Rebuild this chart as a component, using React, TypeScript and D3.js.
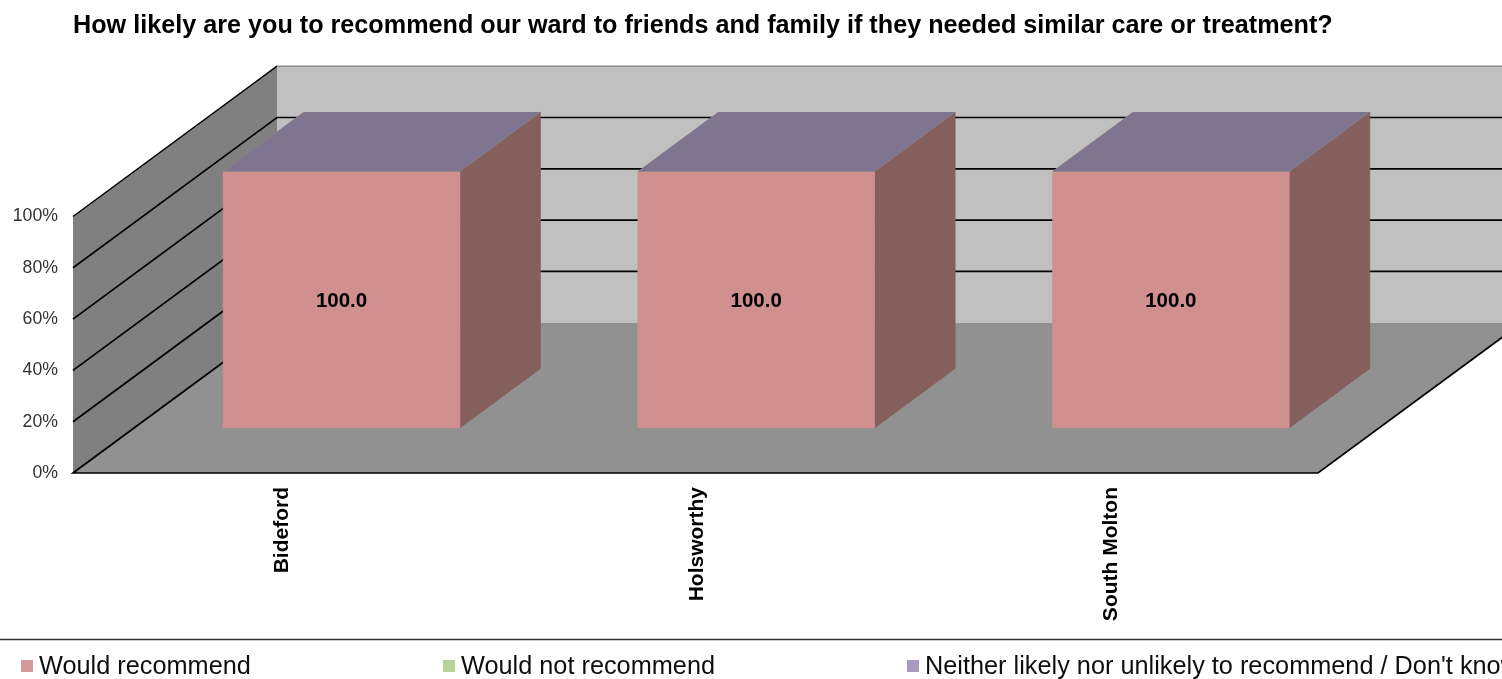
import { useEffect, useRef } from 'react';
import * as d3 from 'd3';

const title = 'How likely are you to recommend our ward to friends and family if they needed similar care or treatment?';
const wards = ['Bideford', 'Holsworthy', 'South Molton'];
const wouldRecommend = [100, 100, 100];
const wouldNotRecommend = [0, 0, 0];
const neither = [0, 0, 0];
const seriesNames = ['Would recommend', 'Would not recommend', "Neither likely nor unlikely to recommend / Don't know"];
const yTicks = [0, 20, 40, 60, 80, 100];

// front, side and top shades per series
const seriesColors = [
  { front: '#d09090', side: '#855e5c', top: '#a07070', key: '#d49a9a' },
  { front: '#b5cf95', side: '#7a8c64', top: '#98ad7d', key: '#b9d097' },
  { front: '#a899c2', side: '#716785', top: '#807490', key: '#a99bc0' },
];

const font = '"Liberation Sans", Arial, sans-serif';

export default function App() {
  const svgRef = useRef<SVGSVGElement>(null);

  useEffect(() => {
    if (!svgRef.current) return;
    const root = d3.select(svgRef.current);
    root.selectAll('*').remove();

    const width = 1502;
    const height = 679;

    // the reference is a slightly soft, upscaled picture
    root.append('defs').append('filter').attr('id', 'soft')
      .attr('x', 0).attr('y', 0).attr('width', 1).attr('height', 1)
      .append('feGaussianBlur').attr('stdDeviation', 0.45);
    const svg = root.append('g').attr('filter', 'url(#soft)');

    // front plane of the 3d box, depth goes back and to the right
    const x0 = 73;
    const x1 = 1318;
    const x = d3.scaleBand<string>().domain(wards).range([x0, 1317]);
    const y = d3.scaleLinear().domain([0, 100]).range([473, 216.5]);
    const depthX = d3.scaleLinear().domain([0, 1]).range([0, 204]);
    const depthY = d3.scaleLinear().domain([0, 1]).range([0, -150.3]);
    const pt = (px: number, value: number, d: number) =>
      [px + depthX(d), y(value) + depthY(d)] as [number, number];
    const line = d3.line();
    const poly = (pts: [number, number][]) => line(pts) + 'Z';

    svg.append('rect').attr('width', width).attr('height', height).attr('fill', '#fff');

    svg.append('text')
      .attr('x', 73).attr('y', 33)
      .style('font-family', font).style('font-size', '25.2px').style('font-weight', '700')
      .attr('fill', '#000')
      .text(title);

    // back wall
    svg.append('path')
      .attr('d', poly([pt(x0, 0, 1), pt(x0, 100, 1), pt(x1, 100, 1), pt(x1, 0, 1)]))
      .attr('fill', '#c0c0c0');

    // floor
    svg.append('path')
      .attr('d', poly([pt(x0, 0, 0), pt(x1, 0, 0), pt(x1, 0, 1), pt(x0, 0, 1)]))
      .attr('fill', '#919191');

    // side wall
    svg.append('path')
      .attr('d', poly([pt(x0, 0, 0), pt(x0, 100, 0), pt(x0, 100, 1), pt(x0, 0, 1)]))
      .attr('fill', '#808080');

    // gridlines
    yTicks.filter(t => t > 0 && t < 100).forEach(t => {
      svg.append('path')
        .attr('d', line([pt(x0, t, 0), pt(x0, t, 1), pt(x1, t, 1)]))
        .attr('fill', 'none').attr('stroke', '#000').attr('stroke-width', 1.7);
    });
    svg.append('path')
      .attr('d', line([pt(x0, 100, 0), pt(x0, 100, 1)]))
      .attr('fill', 'none').attr('stroke', '#000').attr('stroke-width', 1.5);
    svg.append('path')
      .attr('d', line([pt(x0, 100, 1), pt(x1, 100, 1)]))
      .attr('fill', 'none').attr('stroke', '#8a8a8a').attr('stroke-width', 1.5);
    svg.append('path')
      .attr('d', line([pt(x0, 0, 1), pt(x0, 0, 0), pt(x1, 0, 0), pt(x1, 0, 1)]))
      .attr('fill', 'none').attr('stroke', '#000').attr('stroke-width', 1.7);

    // stacked bars, the zero series only leave their top face
    const rows = wards.map((w, i) => ({
      ward: w,
      s0: wouldRecommend[i],
      s1: wouldNotRecommend[i],
      s2: neither[i],
    }));
    const stacked = d3.stack<any>().keys(['s0', 's1', 's2'])(rows);

    const barFrac = 0.571;
    const dFront = 0.3;
    const dBack = 0.695;
    const barW = x.bandwidth() * barFrac;

    stacked.forEach((layer, si) => {
      const c = seriesColors[si];
      layer.forEach((seg, i) => {
        const left = x(wards[i])! + (x.bandwidth() - barW) / 2;
        const right = left + barW;
        const [lo, hi] = seg;
        const g = svg.append('g');
        if (hi > lo) {
          // thin own-colour stroke closes the seam between faces
          g.append('path')
            .attr('d', poly([pt(right, lo, dFront), pt(right, hi, dFront), pt(right, hi, dBack), pt(right, lo, dBack)]))
            .attr('fill', c.side).attr('stroke', c.side).attr('stroke-width', 0.6);
          g.append('path')
            .attr('d', poly([pt(left, lo, dFront), pt(left, hi, dFront), pt(right, hi, dFront), pt(right, lo, dFront)]))
            .attr('fill', c.front).attr('stroke', c.front).attr('stroke-width', 0.6);
        }
        g.append('path')
          .attr('d', poly([pt(left, hi, dFront), pt(right, hi, dFront), pt(right, hi, dBack), pt(left, hi, dBack)]))
          .attr('fill', c.top);
      });
    });

    // data labels
    wards.forEach((w, i) => {
      const cx = x(w)! + x.bandwidth() / 2;
      const [lx, ly] = pt(cx, wouldRecommend[i] / 2, dFront);
      svg.append('text')
        .attr('x', lx).attr('y', ly + 7)
        .attr('text-anchor', 'middle')
        .style('font-family', font).style('font-size', '20.5px').style('font-weight', '700')
        .attr('fill', '#000')
        .text(wouldRecommend[i].toFixed(1));
    });

    // y axis on the front edge of the side wall
    const yAxis = svg.append('g')
      .attr('transform', `translate(${x0 - 6},-1.2)`)
      .call(d3.axisLeft(y).tickValues(yTicks).tickSize(0).tickPadding(9).tickFormat(d => `${d}%`));
    yAxis.select('.domain').remove();
    yAxis.selectAll('text')
      .style('font-family', font).style('font-size', '17.7px').style('fill', '#333');

    // category labels
    wards.forEach(w => {
      const cx = x(w)! + x.bandwidth() / 2;
      svg.append('text')
        .attr('transform', `translate(${cx + 7.5},487) rotate(-90)`)
        .attr('text-anchor', 'end')
        .style('font-family', font).style('font-size', '21px').style('font-weight', '700')
        .attr('fill', '#000')
        .text(w);
    });

    // legend
    const legendX = [21, 443, 907];
    svg.append('line')
      .attr('x1', 0).attr('x2', width).attr('y1', 639.5).attr('y2', 639.5)
      .attr('stroke', '#333').attr('stroke-width', 1.4);
    seriesNames.forEach((name, i) => {
      svg.append('rect')
        .attr('x', legendX[i]).attr('y', 660).attr('width', 12).attr('height', 12)
        .attr('fill', seriesColors[i].key);
      svg.append('text')
        .attr('x', legendX[i] + 18).attr('y', 674)
        .style('font-family', font).style('font-size', '25.3px')
        .attr('fill', '#111')
        .text(name);
    });
  }, []);

  return (
    <svg
      ref={svgRef}
      width={1502}
      height={679}
      style={{ position: 'fixed', left: 0, top: 0, display: 'block' }}
    />
  );
}
